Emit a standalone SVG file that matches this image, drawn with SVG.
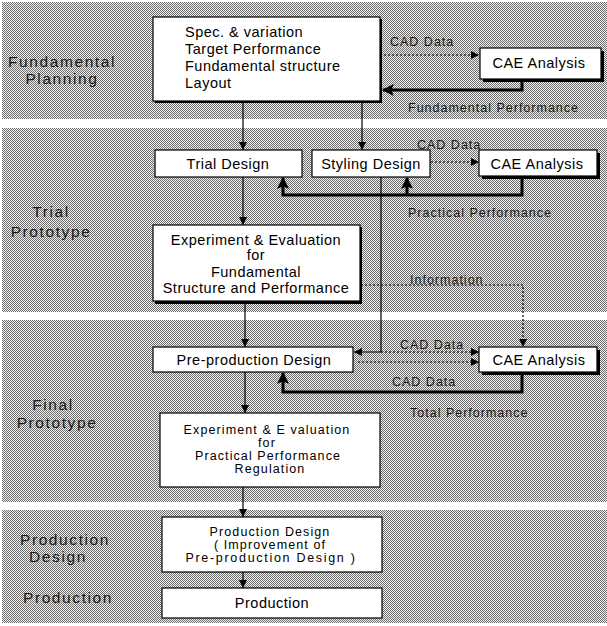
<svg xmlns="http://www.w3.org/2000/svg" width="607" height="626" viewBox="0 0 607 626">
  <defs>
    <!-- fine halftone used for the phase bands -->
    <pattern id="dots" width="2" height="2" patternUnits="userSpaceOnUse">
      <rect width="2" height="2" fill="#f0f0f0"/>
      <rect x="0" y="0" width="1" height="1" fill="#6e6e6e"/>
      <rect x="1" y="1" width="1" height="1" fill="#6e6e6e"/>
    </pattern>
    <marker id="arr" viewBox="0 0 10 10" refX="10" refY="5" markerWidth="8" markerHeight="8" markerUnits="userSpaceOnUse" orient="auto">
      <path d="M0,0 L10,5 L0,10 Z" fill="#000"/>
    </marker>
    <marker id="arrBig" viewBox="0 0 10 10" refX="9" refY="5" markerWidth="12" markerHeight="12" markerUnits="userSpaceOnUse" orient="auto">
      <path d="M0,0 L10,5 L0,10 L2,5 Z" fill="#000"/>
    </marker>
    <style>
      .band { fill: url(#dots); }
      .box { fill: #fff; stroke: #000; stroke-width: 1.2; }
      .shadow { fill: #000; }
      .t { font-family: "Liberation Sans", Arial, sans-serif; font-size: 14.5px; letter-spacing: 0.5px; fill: #000; }
      .s { font-size: 12.5px; letter-spacing: 1.1px; }
      .w { letter-spacing: 1.7px; }
      .c { text-anchor: middle; }
      .phase { font-family: "Liberation Sans", Arial, sans-serif; font-size: 15.5px; letter-spacing: 1.6px; fill: #1a1a1a; text-anchor: middle; }
      .lbl { font-family: "Liberation Sans", Arial, sans-serif; font-size: 12.5px; letter-spacing: 1px; fill: #1a1a1a; }
      .flow { fill: none; stroke: #000; stroke-width: 1.2; }
      .dash { fill: none; stroke: #000; stroke-width: 1.2; stroke-dasharray: 2 2; }
      .fb { fill: none; stroke: #000; stroke-width: 3; }
    </style>
  </defs>

  <!-- phase bands -->
  <rect class="band" x="2" y="2" width="605" height="117"/>
  <rect class="band" x="2" y="128" width="605" height="184"/>
  <rect class="band" x="2" y="320" width="605" height="182"/>
  <rect class="band" x="2" y="510" width="605" height="113"/>

  <!-- phase titles -->
  <g id="phase-titles">
    <text class="phase" x="62" y="67">Fundamental</text>
    <text class="phase" x="62" y="84">Planning</text>
    <text class="phase" x="51" y="217">Trial</text>
    <text class="phase" x="51" y="237">Prototype</text>
    <text class="phase" x="53" y="410">Final</text>
    <text class="phase" x="57" y="428">Prototype</text>
    <text class="phase" x="65" y="545">Production</text>
    <text class="phase" x="58" y="562">Design</text>
    <text class="phase" x="68" y="603">Production</text>
  </g>

  <!-- connectors -->
  <g id="connectors">
    <!-- main flow -->
    <line class="flow" x1="243" y1="101" x2="243" y2="150" marker-end="url(#arr)"/>
    <line class="flow" x1="362" y1="101" x2="362" y2="150" marker-end="url(#arr)"/>
    <line class="flow" x1="243" y1="177" x2="243" y2="225" marker-end="url(#arr)"/>
    <line class="flow" x1="245" y1="303" x2="245" y2="347" marker-end="url(#arr)"/>
    <line class="flow" x1="245" y1="372" x2="245" y2="413" marker-end="url(#arr)"/>
    <line class="flow" x1="243" y1="487" x2="243" y2="517" marker-end="url(#arr)"/>
    <line class="flow" x1="243" y1="572" x2="243" y2="588" marker-end="url(#arr)"/>

    <!-- CAD data to analysis -->
    <line class="dash" x1="384" y1="55" x2="479" y2="55" marker-end="url(#arr)"/>
    <line class="dash" x1="431" y1="162" x2="479" y2="162" marker-end="url(#arr)"/>

    <!-- analysis feedback -->
    <polyline class="fb" points="522,82 522,90 383,90" marker-end="url(#arrBig)"/>
    <polyline class="fb" points="522,178 522,195 283,195 283,178" marker-end="url(#arrBig)"/>
    <line class="fb" x1="407" y1="195" x2="407" y2="178" marker-end="url(#arrBig)"/>
    <polyline class="fb" points="522,374 522,392 283,392 283,373" marker-end="url(#arrBig)"/>

    <!-- information to final analysis -->
    <polyline class="dash" points="361,285 523,285 523,347" marker-end="url(#arr)"/>

    <!-- styling data down to pre-production -->
    <polyline class="flow" points="381,177 381,352 354,352" marker-end="url(#arr)"/>
    <line class="dash" x1="381" y1="352" x2="479" y2="352" marker-end="url(#arr)"/>
    <line class="dash" x1="358" y1="362" x2="479" y2="362" marker-end="url(#arr)"/>

    <!-- connector labels -->
    <text class="lbl" x="390" y="46">CAD Data</text>
    <text class="lbl" x="408" y="112">Fundamental Performance</text>
    <text class="lbl" x="417" y="149">CAD Data</text>
    <text class="lbl" x="408" y="217">Practical Performance</text>
    <text class="lbl" x="410" y="284">Information</text>
    <text class="lbl" x="400" y="349">CAD Data</text>
    <text class="lbl" x="392" y="386">CAD Data</text>
    <text class="lbl" x="410" y="417">Total Performance</text>
  </g>

  <!-- nodes -->
  <g id="fundamental-plan">
    <rect class="shadow" x="155" y="19" width="227" height="84"/>
    <rect class="box" x="153" y="17" width="227" height="84"/>
    <text class="t" x="185" y="37">Spec. &amp; variation</text>
    <text class="t" x="185" y="54">Target Performance</text>
    <text class="t" x="185" y="71">Fundamental structure</text>
    <text class="t" x="185" y="88">Layout</text>
  </g>

  <g id="cae-1">
    <rect class="shadow" x="483" y="51" width="121" height="31"/>
    <rect class="box" x="480" y="48" width="121" height="31"/>
    <text class="t c" x="539" y="68">CAE Analysis</text>
  </g>

  <g id="trial-design">
    <rect class="box" x="155" y="150" width="147" height="27"/>
    <text class="t c" x="228" y="169">Trial Design</text>
  </g>

  <g id="styling-design">
    <rect class="box" x="312" y="150" width="118" height="27"/>
    <text class="t c" x="371" y="169">Styling Design</text>
  </g>

  <g id="cae-2">
    <rect class="shadow" x="482" y="153" width="118" height="26"/>
    <rect class="box" x="479" y="150" width="118" height="26"/>
    <text class="t c" x="537" y="169">CAE Analysis</text>
  </g>

  <g id="experiment-fundamental">
    <rect class="shadow" x="155" y="227" width="207" height="77"/>
    <rect class="box" x="153" y="225" width="207" height="76"/>
    <text class="t c" x="256" y="245">Experiment &amp; Evaluation</text>
    <text class="t c" x="256" y="260">for</text>
    <text class="t c" x="256" y="277">Fundamental</text>
    <text class="t c" x="256" y="293">Structure and Performance</text>
  </g>

  <g id="pre-production-design">
    <rect class="box" x="153" y="347" width="200" height="25"/>
    <text class="t c" x="254" y="365">Pre-production Design</text>
  </g>

  <g id="cae-3">
    <rect class="shadow" x="482" y="350" width="118" height="25"/>
    <rect class="box" x="479" y="347" width="118" height="25"/>
    <text class="t c" x="539" y="365">CAE Analysis</text>
  </g>

  <g id="experiment-practical">
    <rect class="box" x="160" y="413" width="220" height="74"/>
    <text class="t s c" x="267" y="434">Experiment &amp; E valuation</text>
    <text class="t s c" x="267" y="447">for</text>
    <text class="t s c" x="268" y="460">Practical Performance</text>
    <text class="t s c" x="270" y="473">Regulation</text>
  </g>

  <g id="production-design">
    <rect class="box" x="162" y="517" width="220" height="55"/>
    <text class="t s c" x="270" y="536">Production Design</text>
    <text class="t s c" x="270" y="549">( Improvement of</text>
    <text class="t s w c" x="271" y="562">Pre-production Design )</text>
  </g>

  <g id="production">
    <rect class="box" x="162" y="588" width="220" height="30"/>
    <text class="t c" x="272" y="608">Production</text>
  </g>
</svg>
